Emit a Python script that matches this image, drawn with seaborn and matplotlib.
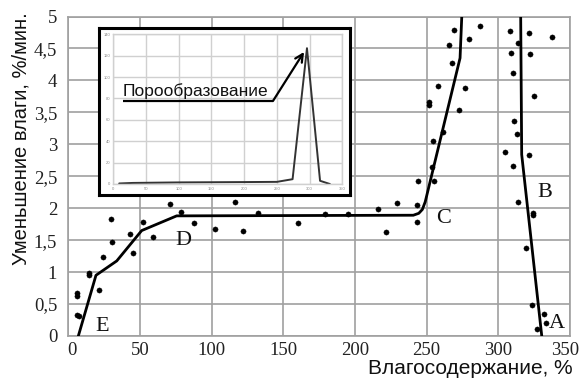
import numpy as np
import pandas as pd
import matplotlib
matplotlib.use("Agg")
import matplotlib.pyplot as plt
import matplotlib.transforms as mtransforms
import seaborn as sns

# ---------------- data ----------------
curve_edc_x = [7.0, 19.3, 33.8, 51.2, 75.6, 240.7, 244.5, 247.0, 249.0, 273.3, 274.5]
curve_edc_y = [0.0, 0.95, 1.175, 1.65, 1.88, 1.89, 1.92, 1.98, 2.10, 4.35, 5.0]

curve_ab_x = [315.6, 316.3, 330.3]
curve_ab_y = [5.0, 2.84, 0.0]

pts_x = [6.3, 6.3, 6.0, 7.5, 14.7, 14.7, 21.4, 24.4, 29.8, 30.8,
         43, 45.4, 51.9, 59.3, 71, 78.4, 87.9, 102.4, 116.3, 122.1,
         132.1, 160.3, 179.1, 195.4, 216.3, 221.7, 229.5, 243.1, 243.1, 243.8,
         255.2, 253.5, 254.2, 261.6, 251.9, 251.9, 272.4, 258.1, 277, 267.7,
         265.8, 279.6, 269.1, 287.2, 308.2, 321.2, 337.7, 313.5, 308.9, 322.3,
         310, 324.7, 311.2, 312.8, 304.9, 321.4, 310, 314, 324.4, 324.4,
         319.1, 323.3, 332.1, 333.1, 327.2]
pts_y = [0.67, 0.62, 0.33, 0.31, 0.98, 0.95, 0.72, 1.23, 1.83, 1.47,
         1.6, 1.30, 1.78, 1.55, 2.06, 1.94, 1.77, 1.67, 2.10, 1.65,
         1.92, 1.77, 1.91, 1.91, 1.99, 1.63, 2.08, 2.05, 1.78, 2.43,
         2.42, 2.65, 3.05, 3.19, 3.66, 3.62, 3.53, 3.92, 3.88, 4.28,
         4.56, 4.65, 4.79, 4.85, 4.78, 4.74, 4.68, 4.58, 4.43, 4.42,
         4.11, 3.76, 3.37, 3.16, 2.88, 2.83, 2.66, 2.09, 1.92, 1.90,
         1.37, 0.49, 0.34, 0.20, 0.11]

region_labels = ["E", "D", "C", "B", "A"]
region_x = [23.3, 80.2, 261.6, 332.6, 340.7]
region_y = [0.15, 1.49, 1.84, 2.24, 0.19]

x_ticks = [0, 50, 100, 150, 200, 250, 300, 350]
y_ticks = [0, 0.5, 1, 1.5, 2, 2.5, 3, 3.5, 4, 4.5, 5]
y_tick_labels = ["0", "0,5", "1", "1,5", "2", "2,5", "3", "3,5", "4", "4,5", "5"]

x_label = "Влагосодержание, %"
y_label = "Уменьшение влаги, %/мин."

inset_x = [9, 30, 100, 200, 250, 274, 296, 316, 331]
inset_y = [0.5, 1.0, 1.5, 1.8, 2.0, 4.5, 127, 3.0, 0.0]
inset_x_ticks = [0, 50, 100, 150, 200, 250, 300, 350]
inset_y_ticks = [0, 20, 40, 60, 80, 100, 120, 140]
inset_text = "Порообразование"

# ---------------- style ----------------
sns.set_theme(style="whitegrid")
plt.rcParams["font.family"] = ["Liberation Sans", "DejaVu Sans"]

W, H = 582, 380
fig = plt.figure(figsize=(W / 100, H / 100), dpi=100)
fig.patch.set_facecolor("white")

def fx(px):
    return px / W

def fy(py):
    return (H - py) / H

left, right, top, bottom = 68.3, 570.0, 16.5, 336.0
ax = fig.add_axes([fx(left), fy(bottom), (right - left) / W, (bottom - top) / H])
ax.set_facecolor("white")

grid_c = "#a0a0a0"
ax.grid(True, color=grid_c, linewidth=1.2)
for s in ax.spines.values():
    s.set_color(grid_c)
    s.set_linewidth(1.2)

df_pts = pd.DataFrame({"x": pts_x, "y": pts_y})
sns.scatterplot(data=df_pts, x="x", y="y", ax=ax, color="black", s=14,
                edgecolor="black", linewidth=0.3, zorder=4)

df_edc = pd.DataFrame({"x": curve_edc_x, "y": curve_edc_y})
sns.lineplot(data=df_edc, x="x", y="y", ax=ax, color="black", linewidth=2.0,
             sort=False, estimator=None, zorder=3)
df_ab = pd.DataFrame({"x": curve_ab_x, "y": curve_ab_y})
sns.lineplot(data=df_ab, x="x", y="y", ax=ax, color="black", linewidth=2.0,
             sort=False, estimator=None, zorder=3)

for lab, lx, ly in zip(region_labels, region_x, region_y):
    ax.text(lx, ly, lab, fontsize=16, family="Liberation Serif",
            ha="center", va="center", color="#111111", zorder=5)

ax.set_xlim(0, 350)
ax.set_ylim(0, 5)
ax.set_xticks(x_ticks)
ax.set_xticklabels([str(t) for t in x_ticks])
ax.set_yticks(y_ticks)
ax.set_yticklabels(y_tick_labels)
ax.tick_params(length=0, labelsize=13.5, colors="#222222")
ax.tick_params(axis="y", pad=8)
ax.tick_params(axis="x", pad=4)
for t in ax.get_xticklabels() + ax.get_yticklabels():
    t.set_family("Liberation Serif")
xlabs = ax.get_xticklabels()
xlabs[0].set_transform(xlabs[0].get_transform() +
                       mtransforms.ScaledTranslation(4 / 100, 0, fig.dpi_scale_trans))
xlabs[-1].set_transform(xlabs[-1].get_transform() +
                        mtransforms.ScaledTranslation(-5 / 100, 0, fig.dpi_scale_trans))
ax.set_xlabel("")
ax.set_ylabel("")

fig.text(fx(573), fy(378), x_label, fontsize=15, ha="right", va="bottom",
         color="#111111")
fig.text(fx(21), fy(12), y_label, fontsize=14.5, rotation=90, ha="center",
         va="top", color="#111111")

# ---------------- inset ----------------
bx0, bx1, by0, by1 = 98.5, 350.0, 28.0, 195.0
box = fig.add_axes([fx(bx0), fy(by1), (bx1 - bx0) / W, (by1 - by0) / H])
box.set_facecolor("white")
box.set_xticks([])
box.set_yticks([])
box.grid(False)
for s in box.spines.values():
    s.set_color("black")
    s.set_linewidth(2.2)

il, ir, it, ib = 113.3, 342.3, 34.3, 184.0
ins = fig.add_axes([fx(il), fy(ib), (ir - il) / W, (ib - it) / H])
ins.set_facecolor("none")
ins.grid(True, color="#d0d0d0", linewidth=1.0)
for s in ins.spines.values():
    s.set_color("#d0d0d0")
    s.set_linewidth(1.0)

df_in = pd.DataFrame({"x": inset_x, "y": inset_y})
sns.lineplot(data=df_in, x="x", y="y", ax=ins, color="#333333", linewidth=1.4,
             sort=False, estimator=None)
ins.set_xlim(0, 350)
ins.set_ylim(0, 140)
ins.set_xticks(inset_x_ticks)
ins.set_yticks(inset_y_ticks)
ins.tick_params(length=0, labelsize=3, colors="#888888", pad=2)
ins.set_xlabel("")
ins.set_ylabel("")

ins.text(14.8, 79.5, inset_text, fontsize=12.5, ha="left", va="bottom",
         color="#111111")
ins.plot([14.8, 244], [77.6, 77.6], color="black", linewidth=1.6,
         solid_capstyle="butt")
ins.annotate("", xy=(291.5, 123.5), xytext=(244, 77.6),
             arrowprops=dict(arrowstyle="->", color="black", lw=1.6,
                             shrinkA=0, shrinkB=0, mutation_scale=14))

fig.savefig("out.png", dpi=100, facecolor="white")
